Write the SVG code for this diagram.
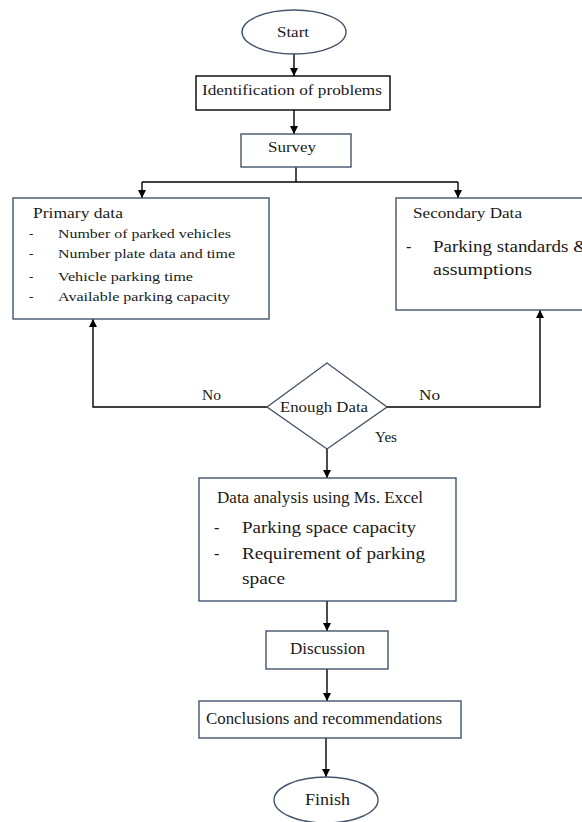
<svg xmlns="http://www.w3.org/2000/svg" width="582" height="822" viewBox="0 0 582 822">
<style>
.bg{fill:#ffffff}
.nb{fill:#ffffff;stroke:#44546a;stroke-width:1.4}
.kb{fill:#ffffff;stroke:#000000;stroke-width:1.4}
.t{font-family:"Liberation Serif","Times New Roman",serif;font-size:14px;fill:#1a1a1a}
.s{font-size:13px}
.l{font-size:16px}
.c{fill:none;stroke:#000000;stroke-width:1.4}
</style>
<defs>
<marker id="ah" viewBox="0 0 8 8" refX="8" refY="4" markerWidth="8" markerHeight="8" markerUnits="userSpaceOnUse" orient="auto">
<path d="M0,0 L8,4 L0,8 Z" fill="#000000"/>
</marker>
</defs>
<rect class="bg" x="0" y="0" width="582" height="822"/>
<g id="connectors">
<line class="c" x1="294" y1="54" x2="294" y2="76" marker-end="url(#ah)"/>
<line class="c" x1="294" y1="110" x2="294" y2="134" marker-end="url(#ah)"/>
<polyline class="c" points="296,167 296,182"/>
<polyline class="c" points="142,182 458,182"/>
<line class="c" x1="142" y1="182" x2="142" y2="198" marker-end="url(#ah)"/>
<line class="c" x1="458" y1="182" x2="458" y2="198" marker-end="url(#ah)"/>
<polyline class="c" points="267,407 93,407 93,319" marker-end="url(#ah)"/>
<polyline class="c" points="387,407 540,407 540,310" marker-end="url(#ah)"/>
<line class="c" x1="327" y1="449" x2="327" y2="478" marker-end="url(#ah)"/>
<line class="c" x1="327" y1="601" x2="327" y2="631" marker-end="url(#ah)"/>
<line class="c" x1="327" y1="669" x2="327" y2="701" marker-end="url(#ah)"/>
<line class="c" x1="326" y1="738" x2="326" y2="777" marker-end="url(#ah)"/>
<text class="t" x="202" y="400" textLength="19" lengthAdjust="spacingAndGlyphs">No</text>
<text class="t" x="419" y="400" textLength="21" lengthAdjust="spacingAndGlyphs">No</text>
<text class="t" x="375" y="442" textLength="22" lengthAdjust="spacingAndGlyphs">Yes</text>
</g>
<g id="start">
<ellipse class="nb" cx="294" cy="32" rx="52" ry="22"/>
<text class="t" x="277" y="37" textLength="32" lengthAdjust="spacingAndGlyphs">Start</text>
</g>
<g id="identification">
<rect class="kb" x="196" y="76" width="194" height="34"/>
<text class="t" x="202" y="95" textLength="180" lengthAdjust="spacingAndGlyphs">Identification  of problems</text>
</g>
<g id="survey">
<rect class="nb" x="241" y="134" width="110" height="33"/>
<text class="t" x="268" y="152" textLength="48" lengthAdjust="spacingAndGlyphs">Survey</text>
</g>
<g id="primary">
<rect class="nb" x="13" y="198" width="256" height="121"/>
<text class="t" x="33" y="218" textLength="90" lengthAdjust="spacingAndGlyphs">Primary  data</text>
<text class="t s" x="29" y="238">-</text>
<text class="t s" x="58" y="238" textLength="173" lengthAdjust="spacingAndGlyphs">Number of parked vehicles</text>
<text class="t s" x="29" y="258">-</text>
<text class="t s" x="58" y="258" textLength="177" lengthAdjust="spacingAndGlyphs">Number plate data and time</text>
<text class="t s" x="29" y="281">-</text>
<text class="t s" x="58" y="281" textLength="135" lengthAdjust="spacingAndGlyphs">Vehicle parking time</text>
<text class="t s" x="29" y="301">-</text>
<text class="t s" x="58" y="301" textLength="172" lengthAdjust="spacingAndGlyphs">Available parking capacity</text>
</g>
<g id="secondary">
<rect class="nb" x="396" y="198" width="200" height="112"/>
<text class="t" x="413" y="218" textLength="109" lengthAdjust="spacingAndGlyphs">Secondary  Data</text>
<text class="t l" x="406" y="252">-</text>
<text class="t l" x="433" y="252" textLength="155" lengthAdjust="spacingAndGlyphs">Parking standards &amp;</text>
<text class="t l" x="433" y="275" textLength="99" lengthAdjust="spacingAndGlyphs">assumptions</text>
</g>
<g id="decision">
<polygon class="nb" points="267,407 327,363 387,407 327,449"/>
<text class="t" x="280" y="412" textLength="88" lengthAdjust="spacingAndGlyphs">Enough Data</text>
</g>
<g id="analysis">
<rect class="nb" x="199" y="478" width="257" height="123"/>
<text class="t l" x="217" y="503" textLength="206" lengthAdjust="spacingAndGlyphs">Data analysis using Ms. Excel</text>
<text class="t l" x="214" y="533">-</text>
<text class="t l" x="242" y="533" textLength="174" lengthAdjust="spacingAndGlyphs">Parking space capacity</text>
<text class="t l" x="214" y="559">-</text>
<text class="t l" x="242" y="559" textLength="183" lengthAdjust="spacingAndGlyphs">Requirement of parking</text>
<text class="t l" x="242" y="584" textLength="43" lengthAdjust="spacingAndGlyphs">space</text>
</g>
<g id="discussion">
<rect class="nb" x="266" y="631" width="122" height="38"/>
<text class="t l" x="290" y="654" textLength="75" lengthAdjust="spacingAndGlyphs">Discussion</text>
</g>
<g id="conclusions">
<rect class="nb" x="199" y="701" width="262" height="37"/>
<text class="t l" x="206" y="724" textLength="236" lengthAdjust="spacingAndGlyphs">Conclusions and recommendations</text>
</g>
<g id="finish">
<ellipse class="nb" cx="326" cy="800" rx="52" ry="23"/>
<text class="t l" x="305" y="805" textLength="45" lengthAdjust="spacingAndGlyphs">Finish</text>
</g>
</svg>
